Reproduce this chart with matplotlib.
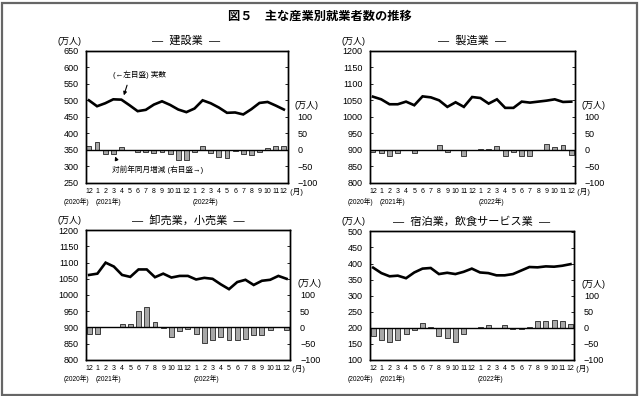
import numpy as np
import matplotlib.pyplot as plt
from matplotlib.patches import Rectangle

plt.rcParams['font.family'] = ['Liberation Sans', 'Noto Sans CJK JP', 'DejaVu Sans']

months = ['12'] + [str(m) for m in range(1, 13)] * 2

# 建設業
con_total = [500, 482, 491, 503, 502, 485, 467, 471, 487, 497, 486, 472, 464,
             475, 500, 491, 478, 462, 463, 457, 473, 492, 495, 484, 472]
con_diff = [11, 22, -13, -12, 9, -1, -6, -6, -10, -7, -13, -33, -33,
            -7, 10, -9, -22, -25, -5, -14, -15, -6, 6, 11, 10]

# 製造業
man_total = [1061, 1053, 1038, 1038, 1046, 1035, 1062, 1059, 1050, 1030, 1044, 1030, 1060,
             1057, 1040, 1053, 1027, 1027, 1046, 1043, 1046, 1049, 1053, 1045, 1046]
man_diff = [-8, -10, -20, -10, 0, -10, -1, -2, 15, -6, 0, -20, -1,
            3, 3, 12, -18, -8, -18, -18, -2, 17, 8, 14, -15]

# 卸売業，小売業
ret_total = [1062, 1066, 1100, 1088, 1062, 1056, 1079, 1079, 1055, 1066, 1054, 1059, 1059,
             1048, 1053, 1050, 1033, 1018, 1040, 1047, 1031, 1044, 1047, 1059, 1050]
ret_diff = [-21, -21, 0, 1, 9, 11, 50, 63, 17, -1, -31, -12, -5,
            -20, -47, -40, -31, -40, -40, -35, -25, -24, -8, 0, -9]

# 宿泊業，飲食サービス業
acc_total = [387, 370, 360, 362, 354, 372, 384, 386, 367, 371, 367, 374, 384,
             372, 370, 363, 363, 367, 378, 389, 388, 391, 390, 393, 398]
acc_diff = [-28, -40, -46, -40, -20, -8, 14, 2, -25, -33, -46, -20, -1,
            2, 9, 0, 9, -4, -6, 2, 20, 20, 22, 19, 10]

panels = [
    ('―  建設業  ―', con_total, con_diff, 250, 650, 350,
     [85.5 / 640, (396 - 182.5) / 396, 202 / 640, 131.5 / 396]),
    ('―  製造業  ―', man_total, man_diff, 800, 1200, 900,
     [369.5 / 640, (396 - 182.5) / 396, 205.5 / 640, 131.5 / 396]),
    ('―  卸売業，小売業  ―', ret_total, ret_diff, 800, 1200, 900,
     [85.7 / 640, (396 - 359.7) / 396, 204.6 / 640, 129.4 / 396]),
    ('―  宿泊業，飲食サービス業  ―', acc_total, acc_diff, 100, 500, 200,
     [369.7 / 640, (396 - 359.5) / 396, 204.5 / 640, 128 / 396]),
]

fig = plt.figure(figsize=(6.4, 3.96), dpi=100)
fig.patches.append(Rectangle((1.5 / 640, 1.5 / 396), 635 / 640, 392 / 396,
                             transform=fig.transFigure, fill=False,
                             edgecolor='#666666', linewidth=1.6))
fig.text(0.5, 1 - 17 / 396, '図５　主な産業別就業者数の推移', ha='center', va='center',
         fontsize=8.8, fontweight='bold')

x = np.arange(len(months))
for name, total, diff, lo, hi, zero, pos in panels:
    ax = fig.add_axes(pos)
    ax2 = ax.twinx()
    ax.set_zorder(ax2.get_zorder() + 1)
    ax.patch.set_visible(False)

    ax2.bar(x, diff, width=0.6, color='#a8a8a8', edgecolor='black', linewidth=0.5)
    ax2.axhline(0, color='black', linewidth=1.0)
    ax2.set_ylim(lo - zero, hi - zero)
    rticks = np.arange(-100, hi - zero + 1, 50)
    ax2.set_yticks(rticks)
    ax2.set_yticklabels([('−' + str(-t) if t < 0 else str(t)) if t <= 100 else '' for t in rticks])
    ax2.tick_params(axis='y', direction='in', length=2, width=0.6, pad=7, labelsize=6.5)
    ax2.annotate('(万人)', xy=(1.0, 135), xycoords=ax2.get_yaxis_transform(),
                 xytext=(5, 0), textcoords='offset points', ha='left', va='center',
                 fontsize=6.5)

    ax.plot(x, total, color='black', linewidth=1.9, solid_joinstyle='miter')
    ax.set_ylim(lo, hi)
    ax.set_yticks(np.arange(lo, hi + 1, 50))
    ax.tick_params(axis='y', direction='in', length=2, width=0.6, pad=5, labelsize=6.5)
    ax.set_xlim(-0.42, 24.45)
    ax.set_xticks(x)
    ax.set_xticklabels(months)
    ax.tick_params(axis='x', length=0, pad=4, labelsize=5)
    for a in (ax, ax2):
        for s in a.spines.values():
            s.set_linewidth(1.0)

    ax.set_title(name, fontsize=8, pad=5)
    ax.text(-0.08, 1.04, '(万人)', transform=ax.transAxes, ha='center', va='bottom',
            fontsize=6.5)
    ax.text(1.0, -0.04, ' (月)', transform=ax.transAxes, ha='left', va='top', fontsize=5.5)
    ytr = ax.get_xaxis_transform()
    ax.text(-1.5, -0.12, '(2020年)', transform=ytr, ha='center', va='top', fontsize=4.8)
    ax.text(2.4, -0.12, '(2021年)', transform=ytr, ha='center', va='top', fontsize=4.8)
    ax.text(14.3, -0.12, '(2022年)', transform=ytr, ha='center', va='top', fontsize=4.8)

    if name.startswith('―  建設業'):
        ax.text(3.0, 577, '(←左目盛) 実数', ha='left', va='center', fontsize=5.5)
        ax.annotate('', xy=(4.2, 507), xytext=(4.8, 554),
                    arrowprops=dict(arrowstyle='-|>', color='black', lw=0.8,
                                    mutation_scale=5))
        ax.text(2.9, 289, '対前年同月増減 (右目盛→)', ha='left', va='center', fontsize=5.5)
        ax.annotate('', xy=(3.1, 337), xytext=(3.55, 309),
                    arrowprops=dict(arrowstyle='-|>', color='black', lw=0.8,
                                    mutation_scale=5))

fig.savefig('out.png', dpi=100)
